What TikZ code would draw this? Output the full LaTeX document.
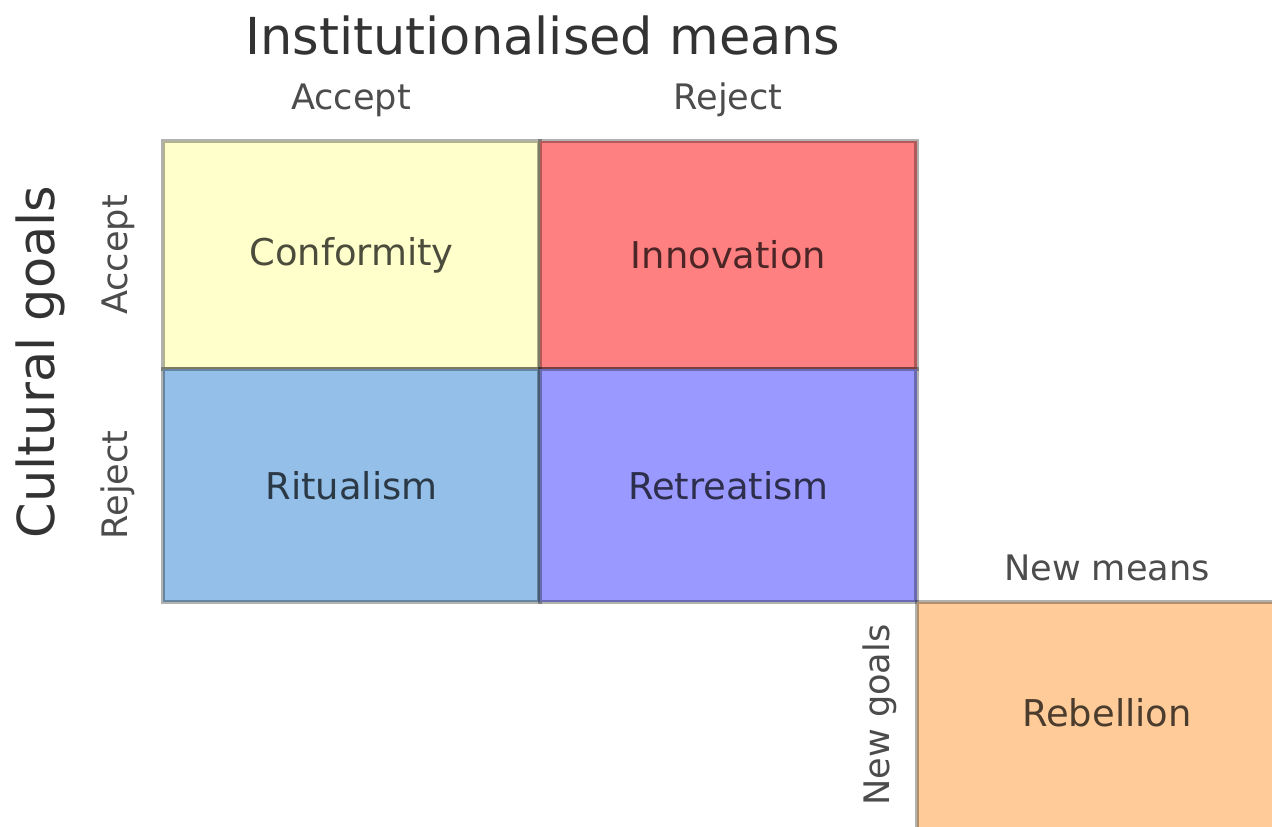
\documentclass[tikz,border=0pt]{standalone}
\usepackage{fontspec}
\setmainfont{DejaVu Sans}
\definecolor{conformcol}{HTML}{FFFFCC}
\definecolor{innovcol}{HTML}{FF8080}
\definecolor{ritualcol}{HTML}{93BFE8}
\definecolor{retreatcol}{HTML}{9999FF}
\definecolor{rebelcol}{HTML}{FFCC99}
\tikzset{
    cell/.style={draw=black, draw opacity=0.3, line width=2.8pt, text opacity=0.7,
        inner sep=0pt, outer sep=0pt, anchor=north west, font=\fontsize{21}{25}\selectfont},
    head/.style={text=black!80, font=\fontsize{29}{34}\selectfont},
    side/.style={text=black!70, font=\fontsize{20}{24}\selectfont},
}
\begin{document}
\begin{tikzpicture}[x=0.02cm,y=-0.02cm]
        \useasboundingbox (0,0) rectangle (1272,826);

        % the grid of four answers
        \node[cell, fill=conformcol, minimum width=7.54cm, minimum height=4.56cm] (conf) at (163,141) {Conformity};
        \node[cell, fill=innovcol, minimum width=7.54cm, minimum height=4.56cm] (innov) at (540,141) {Innovation};
        \node[cell, fill=ritualcol, minimum width=7.54cm, minimum height=4.66cm] (ritual) at (163,369) {Ritualism};
        \node[cell, fill=retreatcol, minimum width=7.54cm, minimum height=4.66cm] (retreat) at (540,369) {Retreatism};

        % the odd one out
        \node[cell, fill=rebelcol, minimum width=7.6cm, minimum height=4.6cm] (rebel) at (917,602) {};
        \node[font=\fontsize{21}{25}\selectfont, text opacity=0.7] (rebeltext) at (1107,713) {Rebellion};

        % headings
        \node[head] (means) at (543,35) {Institutionalised means};
        \node[side] (meansacc) at (351,100) {Accept};
        \node[side] (meansrej) at (728,100) {Reject};

        \node[head, rotate=90] (goals) at (40,362) {Cultural goals};
        \node[side, rotate=90] (goalsacc) at (118,255) {Accept};
        \node[side, rotate=90] (goalsrej) at (118,485) {Reject};

        \node[side] (newmeans) at (1107,568) {New means};
        \node[side, rotate=90] (newgoals) at (880,715) {New goals};
    \end{tikzpicture}
\end{document}
